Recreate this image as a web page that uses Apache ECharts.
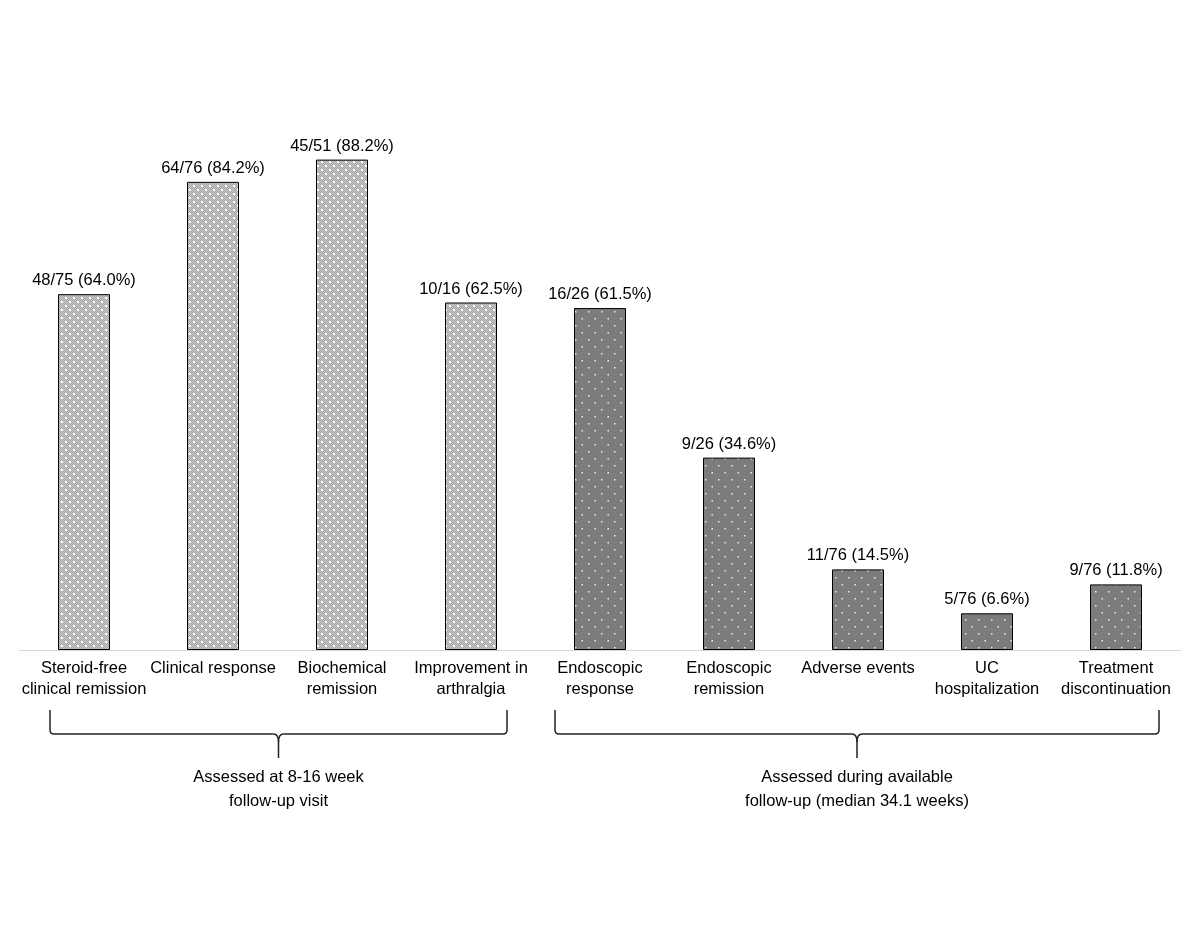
<!DOCTYPE html>
<html>
<head>
<meta charset="utf-8">
<script src="https://cdn.jsdelivr.net/npm/echarts@6/dist/echarts.min.js"></script>
<style>
html,body{margin:0;padding:0;background:#fff;}
#chart{width:1200px;height:927px;}
</style>
</head>
<body>
<div id="chart"></div>
<script>
const categories = [
  'Steroid-free\nclinical remission',
  'Clinical response',
  'Biochemical\nremission',
  'Improvement in\narthralgia',
  'Endoscopic\nresponse',
  'Endoscopic\nremission',
  'Adverse events',
  'UC\nhospitalization',
  'Treatment\ndiscontinuation'
];
const numerators   = [48, 64, 45, 10, 16, 9, 11, 5, 9];
const denominators = [75, 76, 51, 16, 26, 26, 76, 76, 76];
const percents     = [64.0, 84.2, 88.2, 62.5, 61.5, 34.6, 14.5, 6.6, 11.8];
const groupOf      = [0, 0, 0, 0, 1, 1, 1, 1, 1];
const groupTitles  = ['Assessed at 8-16 week\nfollow-up visit', 'Assessed during available\nfollow-up (median 34.1 weeks)'];

function lightPattern() {
  const c = document.createElement('canvas');
  c.width = 8; c.height = 8;
  const g = c.getContext('2d');
  g.fillStyle = '#cdcdcd'; g.fillRect(0,0,8,8);
  g.fillStyle = '#a2a2a2';
  for (let y=0;y<8;y++) for (let x=0;x<8;x++) if ((x+y)%2===0) g.fillRect(x,y,1,1);
  g.fillStyle = '#ffffff';
  g.fillRect(1,1,2,2); g.fillRect(5,5,2,2);
  return c;
}
function darkPattern() {
  const c = document.createElement('canvas');
  c.width = 13; c.height = 14;
  const g = c.getContext('2d');
  g.fillStyle = '#7c7c7c'; g.fillRect(0,0,13,14);
  g.fillStyle = '#ececec';
  g.fillRect(3,3,1.5,1.5); g.fillRect(9.5,10,1.5,1.5);
  return c;
}
const patterns = [
  {image: lightPattern(), repeat: 'repeat'},
  {image: darkPattern(), repeat: 'repeat'}
];

const font = "'Liberation Sans', Arial, sans-serif";
const chart = echarts.init(document.getElementById('chart'), null, {renderer: 'canvas'});

const data = percents.map((p, i) => ({
  value: p,
  itemStyle: {color: patterns[groupOf[i]], borderColor: '#000', borderWidth: 1}
}));

chart.setOption({
  animation: false,
  backgroundColor: '#fff',
  grid: {left: 19.5, right: 19.5, top: 94, bottom: 277, containLabel: false},
  xAxis: {
    type: 'category',
    data: categories,
    axisLine: {lineStyle: {color: '#d6d6d6', width: 1}},
    axisTick: {show: false},
    axisLabel: {interval: 0, color: '#000', fontFamily: font, fontSize: 16.5, lineHeight: 21, margin: 8}
  },
  yAxis: {type: 'value', min: 0, max: 100, show: false, splitLine: {show: false}},
  series: [{
    type: 'bar',
    barWidth: 52,
    data: data,
    label: {
      show: true, position: 'top', distance: 5,
      color: '#000', fontFamily: font, fontSize: 16.5,
      formatter: (p) => numerators[p.dataIndex] + '/' + denominators[p.dataIndex] + ' (' + percents[p.dataIndex].toFixed(1) + '%)'
    }
  }]
});

function braceElements(xL, xR, xc, yTop, yH, yTip) {
  const r = 4;
  const st = {stroke: '#222', lineWidth: 1.5, fill: null};
  return [
    {type: 'line', shape: {x1: xL, y1: yTop, x2: xL, y2: yH - r}, style: st},
    {type: 'bezierCurve', shape: {x1: xL, y1: yH - r, cpx1: xL, cpy1: yH, x2: xL + r, y2: yH}, style: st},
    {type: 'line', shape: {x1: xL + r, y1: yH, x2: xc - 5, y2: yH}, style: st},
    {type: 'bezierCurve', shape: {x1: xc - 5, y1: yH, cpx1: xc, cpy1: yH, x2: xc, y2: yH + 8}, style: st},
    {type: 'bezierCurve', shape: {x1: xc + 5, y1: yH, cpx1: xc, cpy1: yH, x2: xc, y2: yH + 8}, style: st},
    {type: 'line', shape: {x1: xc, y1: yH + 8, x2: xc, y2: yTip}, style: st},
    {type: 'line', shape: {x1: xc + 5, y1: yH, x2: xR - r, y2: yH}, style: st},
    {type: 'bezierCurve', shape: {x1: xR - r, y1: yH, cpx1: xR, cpy1: yH, x2: xR, y2: yH - r}, style: st},
    {type: 'line', shape: {x1: xR, y1: yH - r, x2: xR, y2: yTop}, style: st}
  ];
}

const px = (i) => chart.convertToPixel({xAxisIndex: 0}, categories[i]);
const base = chart.convertToPixel({yAxisIndex: 0}, 0);
const yTop = base + 60, yH = base + 84, yTip = base + 108;
const g1L = px(0) - 34, g1R = px(3) + 36;
const g2L = px(4) - 45, g2R = px(8) + 43;
const c1 = (g1L + g1R) / 2, c2 = (g2L + g2R) / 2;

const graphics = [].concat(
  braceElements(g1L, g1R, c1, yTop, yH, yTip),
  braceElements(g2L, g2R, c2, yTop, yH, yTip),
  [
    {type: 'text', x: c1, y: yTip + 7, style: {text: groupTitles[0], font: '16.5px ' + font, fill: '#000', textAlign: 'center', textVerticalAlign: 'top', lineHeight: 24}},
    {type: 'text', x: c2, y: yTip + 7, style: {text: groupTitles[1], font: '16.5px ' + font, fill: '#000', textAlign: 'center', textVerticalAlign: 'top', lineHeight: 24}}
  ]
);
chart.setOption({graphic: graphics});
</script>
</body>
</html>
